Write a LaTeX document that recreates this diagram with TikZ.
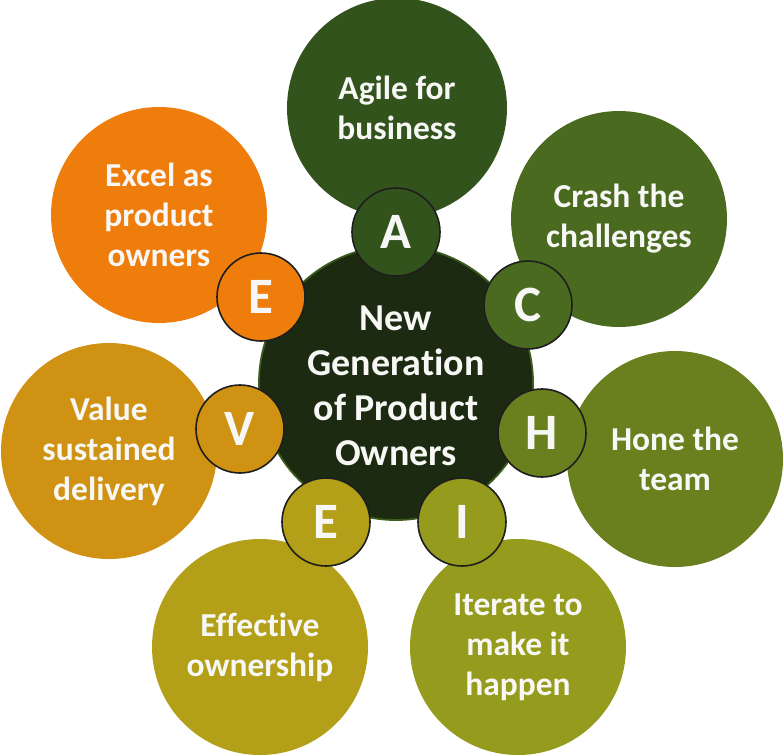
\documentclass[tikz,border=0pt]{standalone}
\usepackage{fontspec}
\setmainfont[Ligatures=NoCommon]{Carlito}
\definecolor{cAgile}{HTML}{33531D}
\definecolor{cCrash}{HTML}{4A6B1F}
\definecolor{cHone}{HTML}{6A801F}
\definecolor{cIter}{HTML}{959B1C}
\definecolor{cEff}{HTML}{B49F18}
\definecolor{cVal}{HTML}{D09213}
\definecolor{cExc}{HTML}{EE7D0C}
\definecolor{cCore}{HTML}{1B2A10}
\definecolor{cCoreLine}{HTML}{3B5C1C}
\definecolor{cTxt}{HTML}{F7F7F5}
\definecolor{cRing}{HTML}{1E1E1E}
\begin{document}
\begin{tikzpicture}[x=1pt,y=-1pt,
  bigc/.style={circle,minimum size=216pt,inner sep=0pt,text=cTxt,align=center,
    font=\bfseries\fontsize{33.5}{40}\selectfont},
  letc/.style={circle,minimum size=88pt,inner sep=0pt,text=cTxt,draw=cRing,line width=1.6pt,
    font=\bfseries\fontsize{51}{56}\selectfont},
  corec/.style={circle,minimum size=274pt,inner sep=0pt,fill=cCore,draw=cCoreLine,line width=1.8pt},
  coret/.style={text=cTxt,align=center,font=\bfseries\fontsize{38}{45}\selectfont}]
\useasboundingbox (0,0) rectangle (784,755);
% outer circles
\node[bigc,fill=cAgile,minimum size=220pt] (agile) at (397,108) {Agile for\\business};
\node[bigc,fill=cCrash] (crash) at (619,219) {Crash the\\challenges};
\node[bigc,fill=cHone] (hone) at (675,459) {Hone the\\team};
\node[bigc,fill=cIter] (iter) at (518,647) {Iterate to\\make it\\happen};
\node[bigc,fill=cEff] (eff) at (260,647) {Effective\\ownership};
\node[bigc,fill=cVal] (val) at (109,451) {Value\\sustained\\delivery};
\node[bigc,fill=cExc] (exc) at (159,215) {Excel as\\product\\owners};
% centre
\node[corec] (core) at (396,383) {};
\node[coret] (coretext) at (396,386) {New\\Generation\\of Product\\Owners};
% letter circles
\node[letc,fill=cAgile] (la) at (396,232) {A};
\node[letc,fill=cCrash] (lc) at (528,305) {C};
\node[letc,fill=cHone] (lh) at (542,433) {H};
\node[letc,fill=cIter] (li) at (462,522) {I};
\node[letc,fill=cEff] (le2) at (326,522) {E};
\node[letc,fill=cVal] (lv) at (240,429) {V};
\node[letc,fill=cExc] (le1) at (261,297) {E};
\end{tikzpicture}
\end{document}
